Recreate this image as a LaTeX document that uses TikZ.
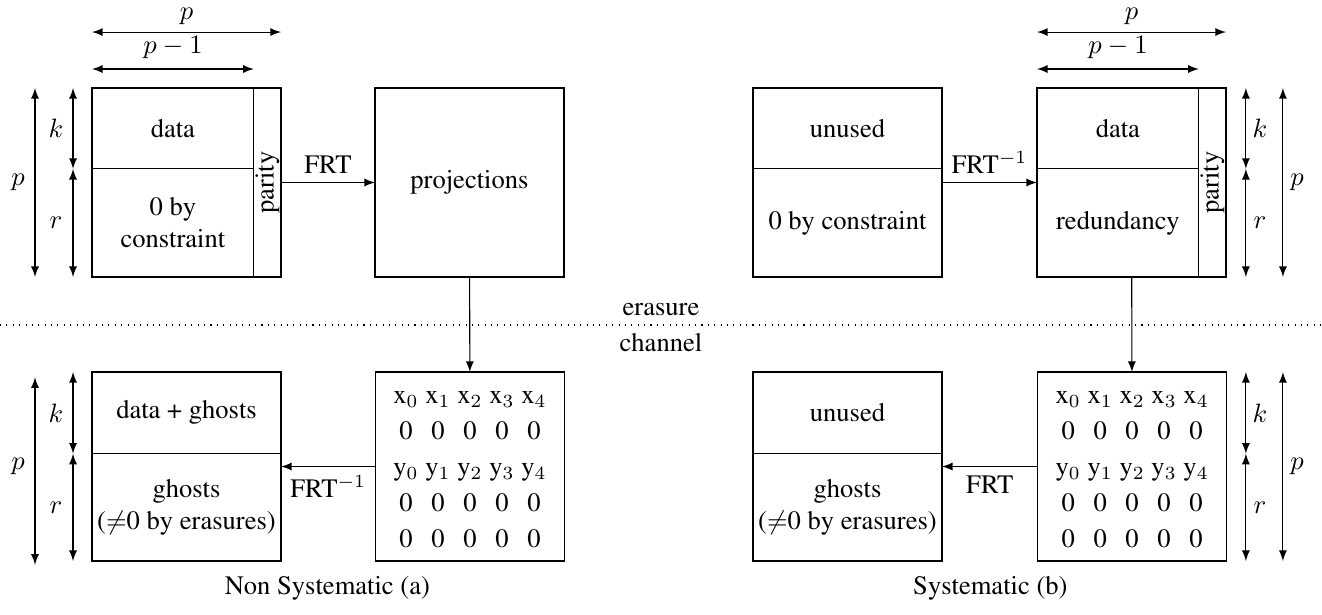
\documentclass[tikz,border=0pt]{standalone}
\usepackage[T1]{fontenc}
\usepackage{times}
\usepackage{amsmath}
\usetikzlibrary{calc}

\tikzset{
  blk/.style={draw, minimum width=2.5cm, minimum height=2.5cm, inner sep=0pt, outer sep=0pt},
  part/.style={draw, inner sep=0pt, outer sep=0pt, align=center, anchor=north west},
  dim/.style={latex-latex},
  conn/.style={-latex},
  lbl/.style={inner sep=0pt},
}

\begin{document}
\begin{tikzpicture}
\useasboundingbox (0,0) rectangle (17.487,8.122);
% top row: p x p blocks (sides 2.5cm), k part 1.07cm, r part 1.43cm
\node[blk] (enc) at (2.467,5.708) {}; % non systematic block
\node[part, minimum width=2.14cm, minimum height=1.07cm] (encdata) at (enc.north west) {data};
\node[part, minimum width=2.14cm, minimum height=1.43cm] (enczero) at (encdata.south west) {0 by\\constraint};
\node[rotate=90, inner sep=0pt] (encpar) at ([xshift=-0.18cm]enc.east) {parity}; % parity column
\node[blk] (proj) at (6.21,5.708) {projections};
\node[blk] (unu) at (11.21,5.708) {}; % systematic block, before inverse FRT
\node[part, minimum width=2.5cm, minimum height=1.07cm] (unutop) at (unu.north west) {unused};
\node[part, minimum width=2.5cm, minimum height=1.43cm] (unubot) at (unutop.south west) {0 by constraint};
\node[blk] (sys) at (14.967,5.708) {}; % systematic block
\node[part, minimum width=2.14cm, minimum height=1.07cm] (sysdata) at (sys.north west) {data};
\node[part, minimum width=2.14cm, minimum height=1.43cm] (sysred) at (sysdata.south west) {redundancy};
\node[rotate=90, inner sep=0pt] (syspar) at ([xshift=-0.18cm]sys.east) {parity};
% dimensions, non systematic block
\draw[dim] (enc.west |- 0,7.698) -- (enc.east |- 0,7.698);
\node[lbl] (pta) at (2.467,7.9) {$p$};
\draw[dim] (enc.west |- 0,7.209) -- (encdata.east |- 0,7.209);
\node[lbl] (pma) at (2.288,7.487) {$p-1$};
\draw[dim] (0.463,0 |- enc.north) -- (0.463,0 |- enc.south);
\node[lbl] (pla) at (0.238,5.708) {$p$};
\draw[dim] (0.966,0 |- enc.north) -- (0.966,0 |- encdata.south);
\draw[dim] (0.966,0 |- encdata.south) -- (0.966,0 |- enc.south);
\node[lbl] (ka) at (0.741,0 |- encdata) {$k$};
\node[lbl] (ra) at (0.741,0 |- enczero) {$r$};
% dimensions, systematic block
\draw[dim] (sys.west |- 0,7.698) -- (sys.east |- 0,7.698);
\node[lbl] (ptb) at (14.967,7.9) {$p$};
\draw[dim] (sys.west |- 0,7.209) -- (sysdata.east |- 0,7.209);
\node[lbl] (pmb) at (14.788,7.487) {$p-1$};
\draw[dim] (16.48,0 |- sys.north) -- (16.48,0 |- sysdata.south);
\draw[dim] (16.48,0 |- sysdata.south) -- (16.48,0 |- sys.south);
\node[lbl] (kb) at (16.667,0 |- sysdata) {$k$};
\node[lbl] (rb) at (16.667,0 |- sysred) {$r$};
\draw[dim] (16.97,0 |- sys.north) -- (16.97,0 |- sys.south);
\node[lbl] (plb) at (17.156,5.708) {$p$};
% erasure channel
\draw[dotted] (0,3.823) -- (17.487,3.823);
\node[anchor=base] (era) at (8.743,3.947) {erasure};
\node[anchor=base] (cha) at (8.743,3.47) {channel};
% bottom row
\node[blk] (gha) at (2.467,1.951) {};
\node[part, minimum width=2.5cm, minimum height=1.08cm] (ghatop) at (gha.north west) {data + ghosts};
\node[part, minimum width=2.5cm, minimum height=1.42cm] (ghabot) at (ghatop.south west) {ghosts\\($\neq$0 by erasures)};
\node[blk] (mata) at (6.217,1.951) {};
\node[blk] (ghb) at (11.21,1.951) {};
\node[part, minimum width=2.5cm, minimum height=1.08cm] (ghbtop) at (ghb.north west) {unused};
\node[part, minimum width=2.5cm, minimum height=1.42cm] (ghbbot) at (ghbtop.south west) {ghosts\\($\neq$0 by erasures)};
\node[blk] (matb) at (14.975,1.951) {};
% received projections, 5 x 5
\foreach \m in {mata,matb}
  \foreach \i in {0,...,4} {
    \node[anchor=base] (\m x\i) at ($(\m.center)+(\i*0.423-0.846,0.84)$) {x$_\i$};
    \node[anchor=base] (\m a\i) at ($(\m.center)+(\i*0.423-0.846,0.363)$) {0};
    \node[anchor=base] (\m y\i) at ($(\m.center)+(\i*0.423-0.846,-0.113)$) {y$_\i$};
    \node[anchor=base] (\m b\i) at ($(\m.center)+(\i*0.423-0.846,-0.589)$) {0};
    \node[anchor=base] (\m c\i) at ($(\m.center)+(\i*0.423-0.846,-1.065)$) {0};
  }
% dimensions, bottom blocks
\draw[dim] ($(0.463,0 |- gha.north)+(0,-0.07)$) -- ($(0.463,0 |- gha.south)+(0,-0.05)$);
\node[lbl] (plc) at (0.238,1.951) {$p$};
\draw[dim] (0.966,0 |- gha.north) -- (0.966,0 |- ghatop.south);
\draw[dim] (0.966,0 |- ghatop.south) -- (0.966,0 |- gha.south);
\node[lbl] (kc) at (0.741,0 |- ghatop) {$k$};
\node[lbl] (rc) at (0.741,0 |- ghabot) {$r$};
\draw[dim] (16.48,0 |- matb.north) -- (16.48,0 |- ghbtop.south);
\draw[dim] (16.48,0 |- ghbtop.south) -- (16.48,0 |- matb.south);
\node[lbl] (kd) at (16.667,0 |- ghbtop) {$k$};
\node[lbl] (rd) at (16.667,0 |- ghbbot) {$r$};
\draw[dim] (16.97,0 |- matb.north) -- (16.97,0 |- matb.south);
\node[lbl] (pld) at (17.156,1.951) {$p$};
% transforms
\draw[conn] (enc) -- node[above] (frta) {FRT} (proj);
\draw[conn] (proj) -- (mata);
\draw[conn] (mata) -- node[below] (frtb) {FRT$^{-1}$} (gha);
\draw[conn] (unu) -- node[above] (frtc) {FRT$^{-1}$} (sys);
\draw[conn] (sys) -- (matb);
\draw[conn] (matb) -- node[below] (frtd) {FRT} (ghb);
% captions
\node (capa) at (4.33,0.344) {Non Systematic (a)};
\node (capb) at (13.1,0.344) {Systematic (b)};
\end{tikzpicture}
\end{document}
